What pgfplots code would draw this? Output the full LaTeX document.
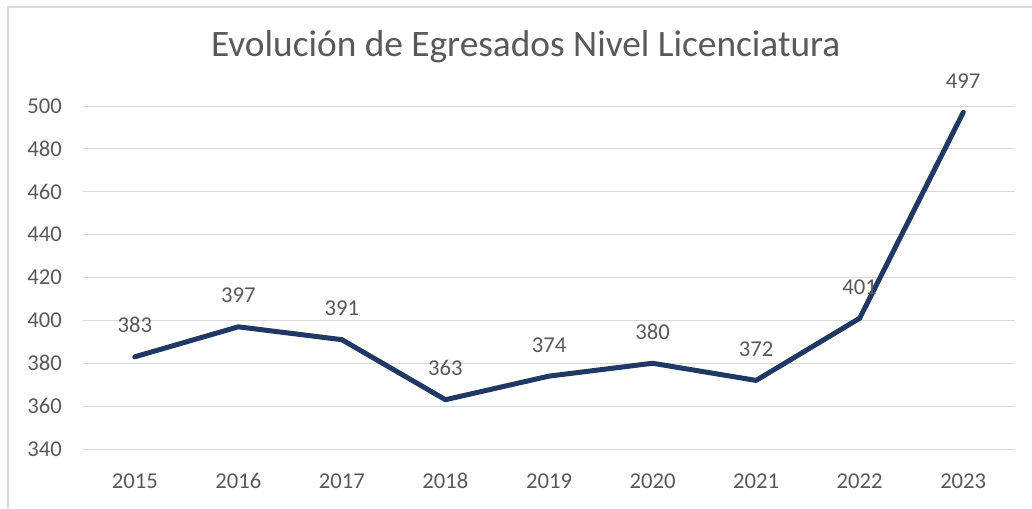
\documentclass[border=0pt]{standalone}
\usepackage{fontspec}
\setmainfont{Carlito}
\usepackage{pgfplots}
\pgfplotsset{compat=1.18}
\definecolor{LineNavy}{HTML}{203864}
\definecolor{TxtGrey}{HTML}{595959}
\definecolor{GridGrey}{HTML}{D9D9D9}

\begin{document}
\begin{tikzpicture}
  \begin{axis}[
    scale only axis,
    width=699pt,height=257.25pt,
    xmin=-0.5,xmax=8.5,ymin=340,ymax=500,
    xtick=data,
    xticklabels={2015,2016,2017,2018,2019,2020,2021,2022,2023},
    ytick={340,360,...,500},
    /pgf/number format/assume math mode=true,
    tick style={draw=none},
    axis line style={draw=none},
    ymajorgrids,grid style={GridGrey,line width=0.75pt},
    tick label style={font=\fontsize{17}{20}\selectfont,text=TxtGrey},
    yticklabel style={anchor=east,inner sep=0pt,xshift=-15.75pt},
    xticklabel style={anchor=base,inner sep=0pt,yshift=-29.25pt},
    title={Evolución de Egresados Nivel Licenciatura},
    title style={font=\fontsize{28}{33}\selectfont,text=TxtGrey,
      at={(0.475,1)},anchor=base,yshift=31.5pt},
    nodes near coords,
    nodes near coords style={font=\fontsize{17}{20}\selectfont,text=TxtGrey,
      anchor=base,inner sep=0pt,yshift=18pt},
  ]
    \addplot[LineNavy,line width=3.75pt,line cap=round,line join=round]
      coordinates {(0,383) (1,397) (2,391) (3,363) (4,374) (5,380) (6,372) (7,401) (8,497)};
    \coordinate (sw) at (rel axis cs:0,0);
    \coordinate (ne) at (rel axis cs:1,1);
  \end{axis}
  % chart area frame, only its left and top edges are in view
  \coordinate (bl) at ([shift={(-56.25pt,-44.25pt)}]sw);
  \coordinate (tr) at ([shift={(12.75pt,74.25pt)}]ne);
  \draw[GridGrey,line width=1.5pt] (bl) -- (bl |- tr) -- (tr);
  \pgfresetboundingbox
  \path[use as bounding box] ([shift={(-62.25pt,-44.25pt)}]sw) rectangle ([shift={(12.75pt,79.5pt)}]ne);
\end{tikzpicture}
\end{document}
